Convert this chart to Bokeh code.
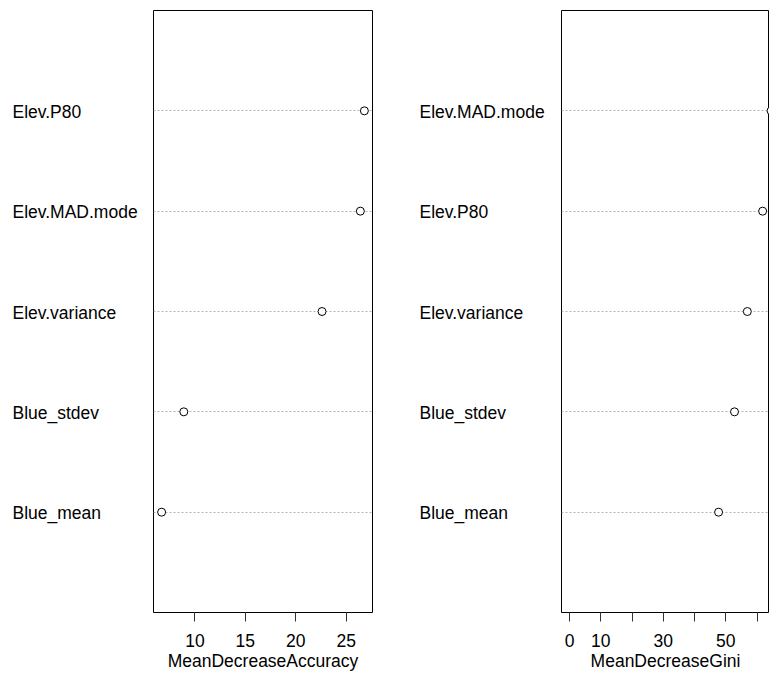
from bokeh.plotting import figure
from bokeh.layouts import row
from bokeh.models import ColumnDataSource, FixedTicker, Range1d
from bokeh.core.properties import value
from bokeh.embed import file_html
from bokeh.resources import INLINE

# ---- data ----
acc_vars = ["Elev.P80", "Elev.MAD.mode", "Elev.variance", "Blue_stdev", "Blue_mean"]
acc_vals = [26.8, 26.4, 22.6, 8.9, 6.7]
acc_ticks = [10, 15, 20, 25]

gini_vars = ["Elev.MAD.mode", "Elev.P80", "Elev.variance", "Blue_stdev", "Blue_mean"]
gini_vals = [64.5, 61.8, 56.9, 52.8, 47.7]
gini_ticks = [0, 10, 20, 30, 40, 50, 60]
gini_tick_labels = {20: "", 40: "", 60: ""}

FONT = "Liberation Sans"
FS = "17.5px"
H = 674
TOP = 10
BOTTOM = 62


def label_column(names, width, text_x):
    n = len(names)
    ypos = [n - i for i in range(n)]
    src = ColumnDataSource(dict(name=names, y=ypos, x=[text_x] * n))
    q = figure(width=width, height=H, output_backend="svg", toolbar_location=None,
               x_range=Range1d(0, width), y_range=Range1d(0, n + 1),
               min_border_left=0, min_border_right=0, min_border_top=TOP,
               min_border_bottom=BOTTOM)
    q.outline_line_color = None
    q.axis.visible = False
    q.grid.visible = False
    q.background_fill_color = "white"
    q.border_fill_color = "white"
    q.text("x", "y", text="name", source=src, text_font=value(FONT),
           text_font_size=value(FS), text_color="black", text_align="left",
           text_baseline="middle", y_offset=1)
    return q


def panel(names, vals, xr, ticks, overrides, xlabel, width, bl, br):
    n = len(names)
    ypos = [n - i for i in range(n)]
    src = ColumnDataSource(dict(name=names, val=vals, y=ypos))
    p = figure(width=width, height=H, output_backend="svg", toolbar_location=None,
               x_range=Range1d(*xr), y_range=Range1d(0, n + 1),
               min_border_left=bl, min_border_right=br, min_border_top=TOP,
               min_border_bottom=BOTTOM)
    p.background_fill_color = "white"
    p.border_fill_color = "white"
    p.outline_line_color = "black"
    p.outline_line_width = 1
    p.yaxis.visible = False
    p.xgrid.visible = False
    p.ygrid.ticker = FixedTicker(ticks=ypos)
    p.ygrid.grid_line_color = "#b4b4b4"
    p.ygrid.grid_line_dash = "2 2"
    p.ygrid.grid_line_width = 1

    ax = p.xaxis[0]
    ax.ticker = FixedTicker(ticks=ticks)
    if overrides:
        ax.major_label_overrides = overrides
    ax.axis_line_color = None
    ax.major_tick_in = 0
    ax.major_tick_out = 9
    ax.major_tick_line_color = "#333333"
    ax.minor_tick_line_color = None
    ax.major_label_standoff = 12
    ax.major_label_text_font = FONT
    ax.major_label_text_font_size = FS
    ax.major_label_text_color = "black"
    ax.axis_label = xlabel
    ax.axis_label_standoff = 1
    ax.axis_label_text_font = FONT
    ax.axis_label_text_font_size = FS
    ax.axis_label_text_font_style = "normal"
    ax.axis_label_text_color = "black"

    p.scatter("val", "y", source=src, marker="circle", size=8,
              fill_color="white", line_color="black", line_width=1)
    return p


a_lo, a_hi = min(acc_vals), max(acc_vals)
a_ext = 0.04 * (a_hi - a_lo)
lab1 = label_column(acc_vars, 152, 12)
p1 = panel(acc_vars, acc_vals, (a_lo - a_ext, a_hi + a_ext), acc_ticks, None,
           "MeanDecreaseAccuracy", 248, 1, 28)

g_hi = max(gini_vals)
lab2 = label_column(gini_vars, 160, 19)
p2 = panel(gini_vars, gini_vals, (-0.04 * g_hi, 64.0), gini_ticks, gini_tick_labels,
           "MeanDecreaseGini", 209, 1, 0)

layout = row(lab1, p1, lab2, p2)
open("out.html", "w").write(file_html(layout, INLINE))
